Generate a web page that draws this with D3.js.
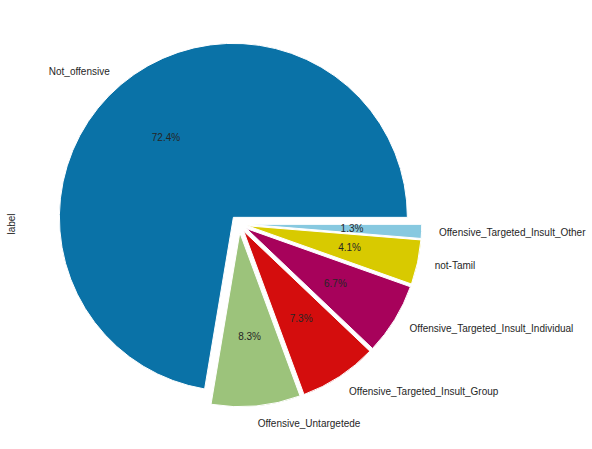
<!DOCTYPE html>
<html>
<head>
<meta charset="utf-8">
<script src="https://cdn.jsdelivr.net/npm/d3@7"></script>
<style>
  body { margin: 0; background: #fff; }
  text { font-family: "Liberation Sans", Arial, sans-serif; }
</style>
</head>
<body>
<div id="chart"></div>
<script>
var width = 592,
    height = 449;

// label counts (tamil offensive dataset)
var labels = ["Not_offensive", "Offensive_Untargetede", "Offensive_Targeted_Insult_Group",
              "Offensive_Targeted_Insult_Individual", "not-Tamil", "Offensive_Targeted_Insult_Other"];
var counts = [25425, 2906, 2557, 2343, 1454, 454];
var colors = ["#0a72a7", "#9cc37b", "#d40d0d", "#a7025b", "#d8ca00", "#87c9e0"];

var cx = 239, cy = 224, r = 174,
    explode = 0.05 * r;

var svg = d3.select("#chart").append("svg")
    .attr("width", width)
    .attr("height", height);

var total = d3.sum(counts);

// matplotlib style: start at 3 o'clock, go counter-clockwise
var pie = d3.pie()
    .sort(null)
    .startAngle(Math.PI / 2)
    .endAngle(Math.PI / 2 - 2 * Math.PI);

var arc = d3.arc().innerRadius(0).outerRadius(r);

var arcs = pie(counts);

var g = svg.selectAll(".slice")
    .data(arcs)
    .enter()
    .append("g")
    .attr("class", "slice")
    .attr("transform", function(d) {
      var a = (d.startAngle + d.endAngle) / 2;
      return "translate(" + (cx + Math.sin(a) * explode) + "," + (cy - Math.cos(a) * explode) + ")";
    });

g.append("path")
    .attr("d", arc)
    .attr("fill", function(d, i) { return colors[i]; })
    .attr("stroke", "#fff")
    .attr("stroke-width", 1);

g.append("text")
    .attr("x", function(d) { return Math.sin((d.startAngle + d.endAngle) / 2) * r * 1.1; })
    .attr("y", function(d) { return -Math.cos((d.startAngle + d.endAngle) / 2) * r * 1.1; })
    .attr("dy", "0.35em")
    .attr("text-anchor", function(d) { return Math.sin((d.startAngle + d.endAngle) / 2) > 0 ? "start" : "end"; })
    .style("font-size", "10px")
    .attr("fill", "#262626")
    .text(function(d, i) { return labels[i]; });

g.append("text")
    .attr("x", function(d) { return Math.sin((d.startAngle + d.endAngle) / 2) * r * 0.6; })
    .attr("y", function(d) { return -Math.cos((d.startAngle + d.endAngle) / 2) * r * 0.6; })
    .attr("dy", "0.35em")
    .attr("text-anchor", "middle")
    .style("font-size", "10px")
    .attr("fill", "#262626")
    .text(function(d) { return (d.value / total * 100).toFixed(1) + "%"; });

svg.append("text")
    .attr("transform", "translate(15," + cy + ") rotate(-90)")
    .attr("text-anchor", "middle")
    .style("font-size", "10px")
    .attr("fill", "#262626")
    .text("label");
</script>
</body>
</html>
